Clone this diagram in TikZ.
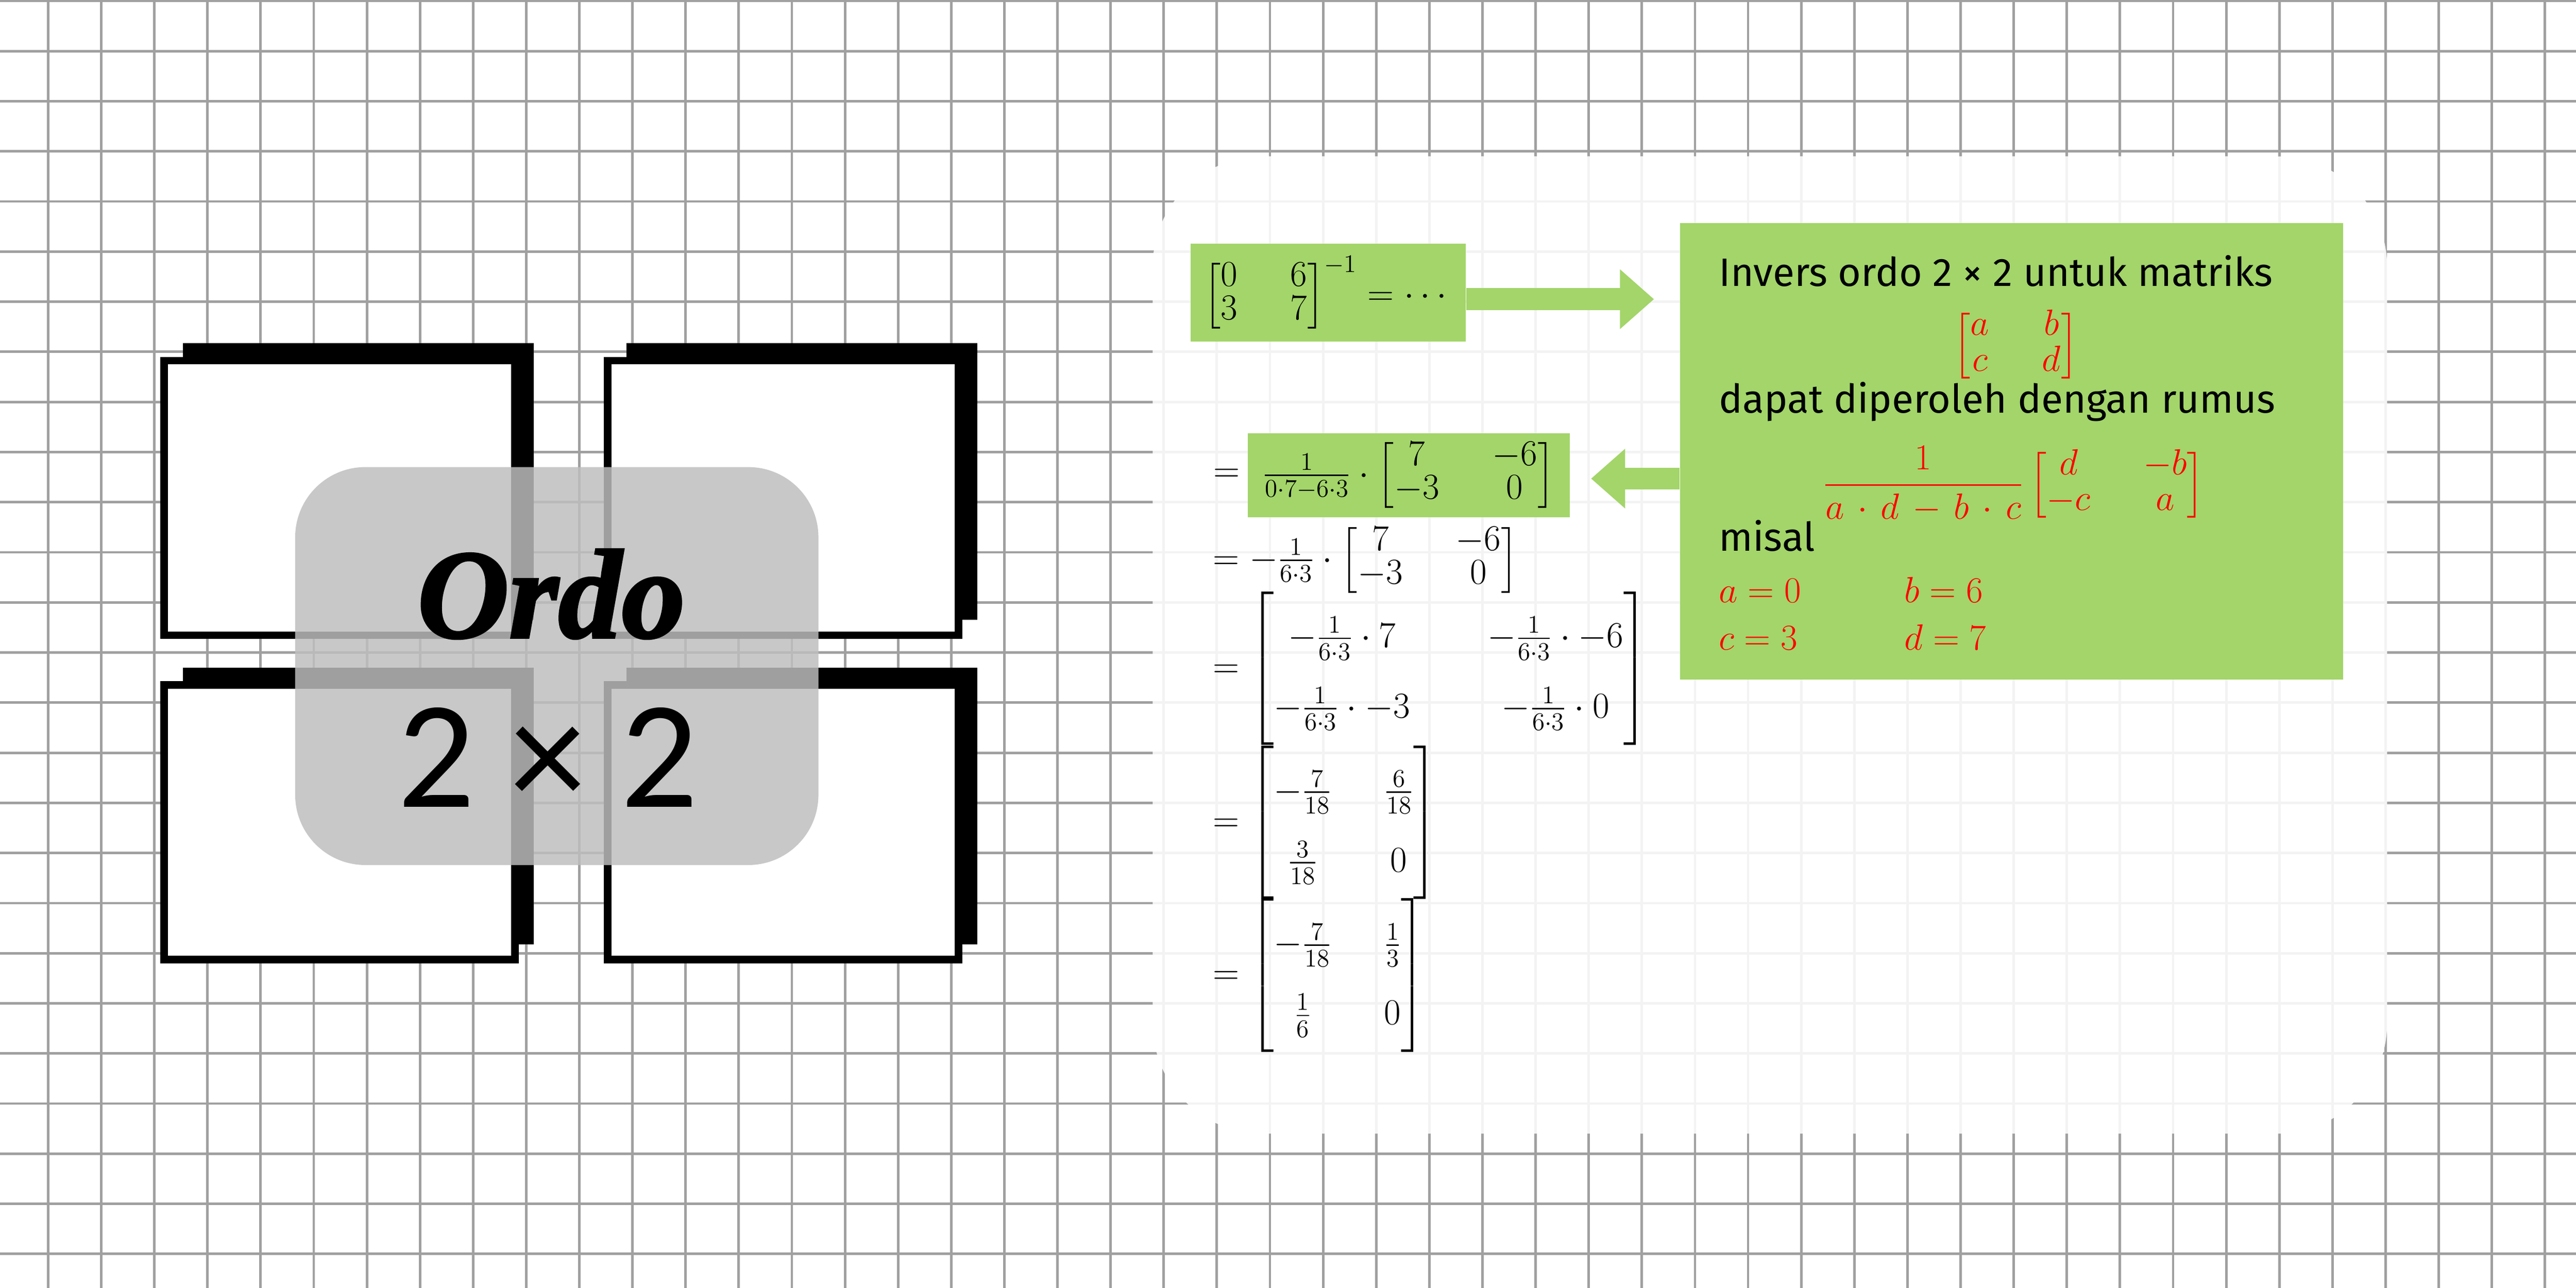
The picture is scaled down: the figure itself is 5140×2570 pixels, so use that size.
\documentclass[tikz,border=0pt]{standalone}
\usepackage{amsmath}
\usepackage{fontspec}
\usepackage{xcolor}
\usetikzlibrary{positioning,arrows.meta}

\setsansfont{Fira Sans}
\newfontfamily\angka{Carlito}
\newfontfamily\skrip[BoldItalicFeatures={FakeBold=2}]{Liberation Serif}

\definecolor{hijau}{RGB}{163,213,106}
\definecolor{garis}{RGB}{160,160,160}
\definecolor{abu}{RGB}{190,190,190}

\setlength{\arraycolsep}{15pt}

\tikzset{
  gridline/.style={garis, line width=0.5mm},
  panel/.style={fill=white, fill opacity=0.88, rounded corners=22mm},
  frame/.style={draw=black, fill=white, line width=1.5mm},
  shadow/.style={fill=black},
  greenbox/.style={fill=hijau, inner sep=0pt},
  greenarrow/.style={hijau, line width=4.4mm, -{Triangle[length=6.8mm, width=11.5mm]}},
  hand/.style={font=\sffamily\fontsize{22.5}{26}\selectfont, anchor=base west, inner sep=0pt},
  eq/.style={font=\fontsize{22.5}{25}\selectfont, inner sep=0pt,
    execute at begin node=\def\arraystretch{0.75}},
  eqwide/.style={eq, anchor=west, execute at begin node=\def\arraystretch{1.6}},
  redeq/.style={eq, text=red, execute at begin node=\def\arraystretch{0.8}},
}

\begin{document}
\begin{tikzpicture}[x=0.1mm, y=-0.1mm]
  \useasboundingbox (0,0) rectangle (5140,2570);
  \fill[white] (0,0) rectangle (5140,2570);

  % kertas petak
  \foreach \gx in {0,...,47}
    \draw[gridline] ({96+106*\gx},0) -- ({96+106*\gx},2570);
  \foreach \gy in {0,...,25}
    \draw[gridline] (0,{2+100*\gy}) -- (5140,{2+100*\gy});

  % empat kotak ordo 2x2
  \foreach \sx/\sy in {320/712, 1205/712, 320/1359, 1205/1359} {
    \fill[shadow] (\sx+45,\sy-27) rectangle ++(700,552);
    \draw[frame] (\sx+7.5,\sy+7.5) rectangle ++(700,548);
  }
  \fill[abu, fill opacity=0.84, rounded corners=14mm] (589,932) rectangle (1633,1726);
  \node[inner sep=0pt, anchor=base, font=\skrip\bfseries\itshape\fontsize{72}{80}\selectfont] (ordo) at (1100,1272) {Ordo};
  \node[inner sep=0pt, anchor=base, font=\angka\fontsize{87}{96}\selectfont] (ukuran) at (1093,1610) {2 × 2};

  % lembar penyelesaian
  \fill[panel] (2300,312) rectangle (4763,2262);

  \node[greenbox, minimum width=54.9mm, minimum height=19.6mm, eq] (soal) at (2650,584)
    {$\begin{bmatrix}0&6\\3&7\end{bmatrix}^{-1}=\cdots$};
  \node[greenbox, minimum width=132.3mm, minimum height=91.1mm] (rumus) at (4013.5,900.5) {};
  \node[greenbox, minimum width=64.2mm, minimum height=16.7mm, eq] (langkah) at (2811,948.5)
    {$\frac{1}{0\cdot7-6\cdot3}\cdot\begin{bmatrix}7&-6\\-3&0\end{bmatrix}$};
  \node[eq, left=1.5mm of langkah] (sama) {$=$};

  \path (soal.east) ++(0,13) coordinate (a1);
  \path (rumus.west |- langkah.east) ++(0,6.5) coordinate (a2);
  \draw[greenarrow, shorten >=5.1mm] (a1) -- (a1 -| rumus.west);
  \draw[greenarrow, shorten >=4.2mm] (a2) -- (a2 -| langkah.east);

  % isi kotak rumus
  \node[hand] (judul) at (3429,571) {Invers ordo 2 × 2 untuk matriks};
  \node[redeq] (abcd) at (4022,690) {$\begin{bmatrix}a&b\\c&d\end{bmatrix}$};
  \node[hand] (cara) at (3429,824) {dapat diperoleh dengan rumus};
  \node[redeq] (invers) at (4018,966)
    {$\medmuskip=6.5mu\dfrac{1}{a\cdot d-b\cdot c}\begin{bmatrix}d&-b\\-c&a\end{bmatrix}$};
  \node[hand] (misal) at (3429,1099) {misal};
  \node[redeq, anchor=base west] (nilaia) at (3429,1202) {$a=0$};
  \node[redeq, anchor=base west] (nilaib) at (3799,1202) {$b=6$};
  \node[redeq, anchor=base west] (nilaic) at (3429,1297) {$c=3$};
  \node[redeq, anchor=base west] (nilaid) at (3799,1297) {$d=7$};

  % langkah berikutnya
  \node[eq, anchor=west] (baris3) at (2420,1118)
    {$=-\frac{1}{6\cdot3}\cdot\begin{bmatrix}7&-6\\-3&0\end{bmatrix}$};
  \node[eqwide] (baris4) at (2420,1334)
    {$\arraycolsep=22pt=\begin{bmatrix}-\frac{1}{6\cdot3}\cdot7 & -\frac{1}{6\cdot3}\cdot-6\\
      -\frac{1}{6\cdot3}\cdot-3 & -\frac{1}{6\cdot3}\cdot0\end{bmatrix}$};
  \node[eqwide] (baris5) at (2420,1641)
    {$=\begin{bmatrix}-\frac{7}{18}&\frac{6}{18}\\\frac{3}{18}&0\end{bmatrix}$};
  \node[eqwide] (baris6) at (2420,1946)
    {$=\begin{bmatrix}-\frac{7}{18}&\frac{1}{3}\\\frac{1}{6}&0\end{bmatrix}$};
\end{tikzpicture}
\end{document}
